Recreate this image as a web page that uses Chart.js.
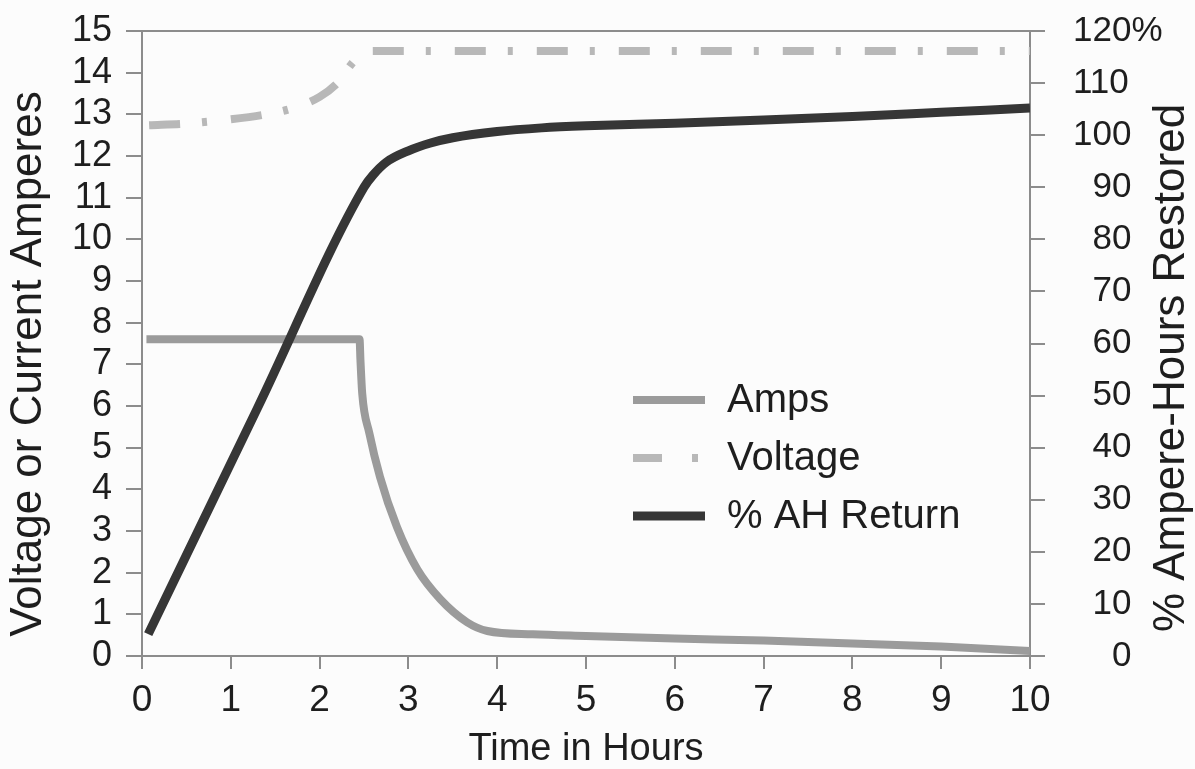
<!DOCTYPE html>
<html>
<head>
<meta charset="utf-8">
<title>Charging profile</title>
<script src="https://cdn.jsdelivr.net/npm/chart.js@4.4.1/dist/chart.umd.min.js"></script>
<style>
  body { margin: 0; background: #fcfcfc; }
  #wrap { width: 1195px; height: 769px; }
</style>
</head>
<body>
<div id="wrap"><canvas id="chargeChart" width="1195" height="769"></canvas></div>
<script>
// Amps (left axis)
const ampsHours  = [0.05, 2.45, 2.46, 2.48, 2.56, 2.68, 2.87, 3.1, 3.36, 3.66, 3.89, 4.4, 5, 6, 7, 8, 9, 10];
const ampsValues = [7.6, 7.6, 7.1, 6.3, 5.35, 4.3, 3.1, 2.08, 1.36, 0.81, 0.6, 0.52, 0.48, 0.42, 0.37, 0.3, 0.23, 0.12];

// Voltage (left axis)
const voltHours  = [0.08, 0.5, 1.0, 1.4, 1.7, 2.0, 2.2, 2.4, 2.6, 10];
const voltValues = [12.74, 12.78, 12.88, 13.0, 13.15, 13.42, 13.75, 14.3, 14.52, 14.52];

// % ampere-hours returned (right axis)
const ahHours  = [0.07, 1.3, 2.5, 2.6, 2.75, 3.0, 3.25, 3.5, 4.0, 4.5, 5, 6, 7, 8, 9, 10];
const ahValues = [4.2, 47.6, 90, 92.3, 94.8, 97, 98.5, 99.5, 100.7, 101.4, 101.8, 102.3, 102.9, 103.6, 104.4, 105.2];

// tick labels
const hourTicks    = [0, 1, 2, 3, 4, 5, 6, 7, 8, 9, 10];
const ampTicks     = [0, 1, 2, 3, 4, 5, 6, 7, 8, 9, 10, 11, 12, 13, 14, 15];
const percentTicks = [0, 10, 20, 30, 40, 50, 60, 70, 80, 90, 100, 110, 120];
const percentLabels = ['0', '10', '20', '30', '40', '50', '60', '70', '80', '90', '100', '110', '120%'];

const leftTitle  = 'Voltage or Current Amperes';
const rightTitle = '% Ampere-Hours Restored';

const FONT = '"Liberation Sans", Arial, sans-serif';
const TEXT = '#1e1e1e';
const AXIS = '#8c8c8c';

const toPoints = (xs, ys) => xs.map((x, i) => ({ x: x, y: ys[i] }));
const useTicks = list => axis => { axis.ticks = list.map(v => ({ value: v })); };
// fixed axis box, and no extra room asked for the end labels
const fixWidth = w => scale => { scale.width = w; scale.paddingTop = 0; scale.paddingBottom = 0; };

// frame, rotated axis titles and the in-plot legend
const decorPlugin = {
  id: 'decor',
  afterDraw(chart) {
    const { ctx, chartArea: a } = chart;
    ctx.save();

    // top border of the plot box
    ctx.strokeStyle = AXIS;
    ctx.lineWidth = 2;
    ctx.beginPath();
    ctx.moveTo(a.left, a.top);
    ctx.lineTo(a.right, a.top);
    ctx.stroke();

    // axis titles, both read bottom to top
    ctx.fillStyle = TEXT;
    ctx.font = '44px ' + FONT;
    ctx.textAlign = 'center';
    ctx.textBaseline = 'middle';
    [[29, 364, leftTitle], [1172, 368, rightTitle]].forEach(([x, y, t]) => {
      ctx.save();
      ctx.translate(x, y);
      ctx.rotate(-Math.PI / 2);
      ctx.fillText(t, 0, 0);
      ctx.restore();
    });

    // legend
    const lx = a.left + 491;
    const rows = [a.top + 369, a.top + 427, a.top + 485];
    chart.data.datasets.forEach((ds, i) => {
      const y = rows[i];
      ctx.strokeStyle = ds.borderColor;
      ctx.lineWidth = ds.borderWidth;
      ctx.lineCap = 'butt';
      ctx.setLineDash(ds.borderDash ? [29, 30, 6, 30] : []);
      ctx.beginPath();
      ctx.moveTo(lx, y);
      ctx.lineTo(lx + 72, y);
      ctx.stroke();
      ctx.setLineDash([]);
      ctx.fillStyle = TEXT;
      ctx.font = '40px ' + FONT;
      ctx.textAlign = 'left';
      ctx.fillText(ds.label, lx + 94, y + 1);
    });
    ctx.restore();
  }
};

const ctx = document.getElementById('chargeChart').getContext('2d');
const chargeChart = new Chart(ctx, {
  type: 'line',
  data: {
    datasets: [{
      label: 'Amps',
      data: toPoints(ampsHours, ampsValues),
      yAxisID: 'y',
      borderColor: '#9b9b9b',
      borderWidth: 8,
      pointRadius: 0,
      cubicInterpolationMode: 'monotone',
      order: 2
    }, {
      label: 'Voltage',
      data: toPoints(voltHours, voltValues),
      yAxisID: 'y',
      borderColor: '#b8b8b8',
      borderWidth: 8,
      borderDash: [31, 22, 5, 24],
      borderCapStyle: 'butt',
      pointRadius: 0,
      cubicInterpolationMode: 'monotone',
      order: 1
    }, {
      label: '% AH Return',
      data: toPoints(ahHours, ahValues),
      yAxisID: 'y2',
      borderColor: '#363636',
      borderWidth: 9,
      pointRadius: 0,
      cubicInterpolationMode: 'monotone',
      order: 0
    }]
  },
  options: {
    responsive: false,
    animation: false,
    layout: { padding: { top: 31 } },
    plugins: {
      legend: { display: false },
      tooltip: { enabled: false }
    },
    scales: {
      x: {
        type: 'linear',
        min: 0,
        max: 10,
        afterBuildTicks: useTicks(hourTicks),
        afterFit(scale) { scale.height = 113; },
        grid: { drawOnChartArea: false, tickLength: 13, color: AXIS, lineWidth: 2 },
        border: { color: AXIS, width: 2 },
        ticks: { color: TEXT, padding: 10, autoSkip: false, maxRotation: 0, font: { family: FONT, size: 37 } },
        title: {
          display: true,
          text: 'Time in Hours',
          color: TEXT,
          padding: 0,
          font: { family: FONT, size: 38, lineHeight: 1.0 }
        }
      },
      y: {
        position: 'left',
        min: 0,
        max: 15,
        afterBuildTicks: useTicks(ampTicks),
        afterFit: fixWidth(142),
        grid: { drawOnChartArea: false, tickLength: 16, color: AXIS, lineWidth: 2 },
        border: { color: AXIS, width: 2 },
        ticks: { color: TEXT, padding: 14, autoSkip: false, font: { family: FONT, size: 36 } }
      },
      y2: {
        position: 'right',
        min: 0,
        max: 120,
        afterBuildTicks: useTicks(percentTicks),
        afterFit: fixWidth(165),
        grid: { drawOnChartArea: false, tickLength: 15, color: AXIS, lineWidth: 2 },
        border: { color: AXIS, width: 2 },
        ticks: {
          color: TEXT,
          padding: 28,
          autoSkip: false,
          font: { family: FONT, size: 35 },
          callback: (value, i) => {
            const label = percentLabels[i];
            return value === 120 ? label : label.padStart(3, '\u2007');
          }
        }
      }
    }
  },
  plugins: [decorPlugin]
});
</script>
</body>
</html>
